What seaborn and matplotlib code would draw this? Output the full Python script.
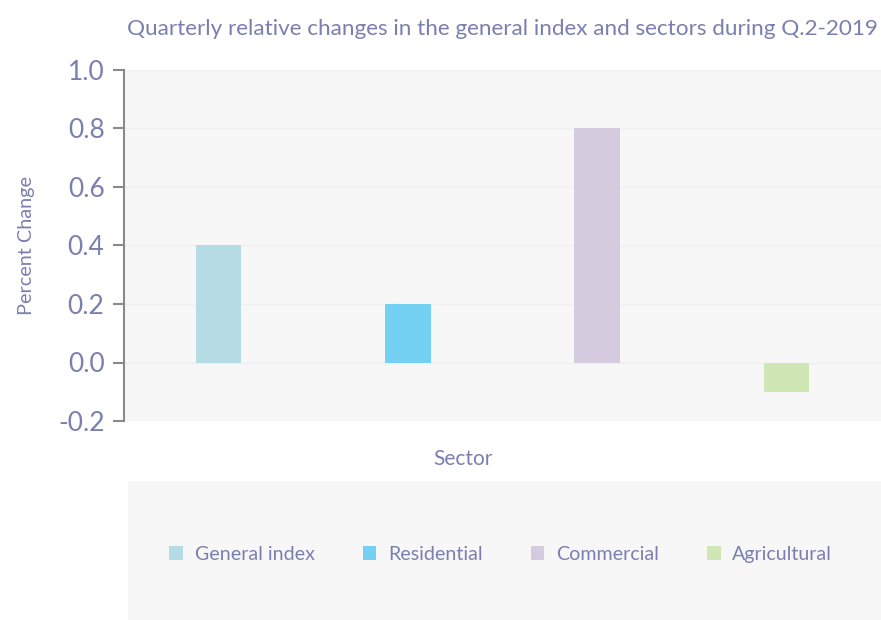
import matplotlib
matplotlib.use("Agg")
import matplotlib.pyplot as plt
from matplotlib.patches import Patch
import pandas as pd
import seaborn as sns

sectors = ["General index", "Residential", "Commercial", "Agricultural"]
changes = [0.4, 0.2, 0.8, -0.1]
colors = ["#b5dbe5", "#75d1f3", "#d5cbdf", "#cfe7b4"]
yticks = [-0.2, 0.0, 0.2, 0.4, 0.6, 0.8, 1.0]

df = pd.DataFrame({"Sector": sectors, "Change": changes})

sns.set_theme(style="white")
plt.rcParams["font.family"] = ["Lato", "DejaVu Sans"]

txt = "#7b7fb0"
bg = "#f7f7f7"

fig = plt.figure(figsize=(8.81, 6.2), dpi=100)
ax = fig.add_axes([124 / 881, 199 / 620, 757 / 881, 351 / 620])
ax.set_facecolor(bg)

sns.barplot(data=df, x="Sector", y="Change", hue="Sector",
            palette=colors, width=0.24, legend=False, ax=ax,
            saturation=1, linewidth=0, edgecolor="none")

ax.set_ylim(-0.2, 1.0)
ax.set_yticks(yticks)
ax.set_yticklabels([f"{t:.1f}" for t in yticks], fontsize=19, color=txt)
ax.set_xticks([])
ax.set_xlim(-0.5, 3.5)
for t in yticks:
    ax.axhline(t, color="#f0f0f0", lw=1, zorder=0)

for s in ["top", "right", "bottom"]:
    ax.spines[s].set_visible(False)
ax.spines["left"].set_color("#8a8a8a")
ax.spines["left"].set_linewidth(1.5)
ax.tick_params(axis="y", length=8, width=1.5, color="#8a8a8a", pad=6, left=True)

ax.set_ylabel("Percent Change", fontsize=14.3, color=txt)
ax.yaxis.set_label_coords(-0.118, 0.5)
ax.set_xlabel("Sector", fontsize=15, color=txt)
ax.xaxis.set_label_coords((463 - 124) / 757, -0.08)
ax.set_title("Quarterly relative changes in the general index and sectors during Q.2-2019",
             fontsize=16.2, color=txt, pad=25)

# legend panel
lax = fig.add_axes([128 / 881, 0, 753 / 881, 139 / 620])
lax.set_facecolor(bg)
lax.set_xticks([])
lax.set_yticks([])
for s in lax.spines.values():
    s.set_visible(False)
handles = [Patch(facecolor=c, edgecolor="none", label=s) for s, c in zip(sectors, colors)]
leg = lax.legend(handles=handles, loc="center", bbox_to_anchor=(0.495, 0.47),
                 ncol=4, frameon=False,
                 fontsize=14.1, handlelength=0.7, handleheight=0.7,
                 handletextpad=0.6, columnspacing=2.45)
for t in leg.get_texts():
    t.set_color(txt)

fig.savefig("out.png", dpi=100)
